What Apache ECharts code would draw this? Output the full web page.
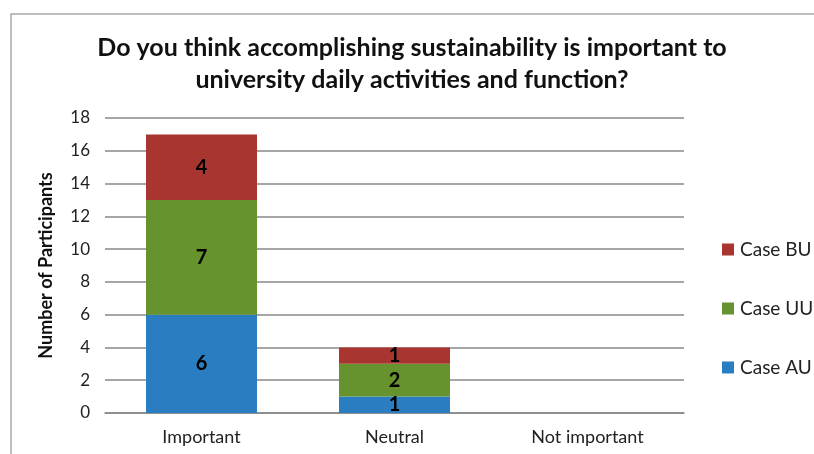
<!DOCTYPE html>
<html><head><meta charset="utf-8">
<script src="https://cdn.jsdelivr.net/npm/echarts@6/dist/echarts.min.js"></script>
<style>html,body{margin:0;padding:0;background:#fff}#c{width:814px;height:454px}</style>
</head><body><div id="c"></div>
<script>
const categories = ['Important', 'Neutral', 'Not important'];
const caseAU = [6, 1, 0];
const caseUU = [7, 2, 0];
const caseBU = [4, 1, 0];
const yTicks = [0, 2, 4, 6, 8, 10, 12, 14, 16, 18];

const FONT = 'Lato';
const chart = echarts.init(document.getElementById('c'));
const label = {
  show: true, position: 'inside', color: '#000', fontWeight: 'bold', fontSize: 20, fontFamily: FONT,
  formatter: p => p.value === 0 ? '' : p.value
};
function ser(name, data, color) {
  return { name, type: 'bar', stack: 'total', data, barWidth: 111, itemStyle: { color }, label };
}
chart.setOption({
  animation: false,
  textStyle: { fontFamily: FONT },
  title: {
    text: 'Do you think accomplishing sustainability is important to\nuniversity daily activities and function?',
    left: 407, top: 27, textAlign: 'center',
    textStyle: { fontSize: 25, fontWeight: 'bold', color: '#111', lineHeight: 32, fontFamily: FONT }
  },
  graphic: [{ type: 'rect', shape: { x: 11, y: 14, width: 830, height: 460 }, style: { fill: 'none', stroke: '#aaa', lineWidth: 1.5 }, silent: true }],
  legend: {
    orient: 'vertical', left: 717, top: 235, itemGap: 40, itemWidth: 12, itemHeight: 12, icon: 'rect',
    data: ['Case BU', 'Case UU', 'Case AU'],
    textStyle: { fontSize: 19, color: '#222', fontFamily: FONT, padding: [0, 0, 0, 1] }
  },
  grid: { left: 105, right: 130, top: 118, bottom: 41 },
  xAxis: {
    type: 'category', data: categories,
    axisLine: { lineStyle: { color: '#888', width: 1.5 } }, axisTick: { show: false },
    axisLabel: { fontSize: 18, color: '#222', margin: 15, fontFamily: FONT }
  },
  yAxis: {
    type: 'value', min: 0, max: 18, interval: 2,
    name: 'Number of Participants', nameLocation: 'middle', nameGap: 50, nameRotate: 90,
    nameTextStyle: { fontSize: 18, fontWeight: 'bold', color: '#111', fontFamily: FONT },
    axisLabel: { fontSize: 17, color: '#222', margin: 15, fontFamily: FONT, formatter: v => yTicks.includes(v) ? String(v) : '' },
    splitLine: { lineStyle: { color: '#888', width: 1.5 } },
    axisLine: { show: false }, axisTick: { show: false }
  },
  series: [
    ser('Case AU', caseAU, '#2A7DC0'),
    ser('Case UU', caseUU, '#67932F'),
    ser('Case BU', caseBU, '#A8352F')
  ]
});
</script></body></html>
